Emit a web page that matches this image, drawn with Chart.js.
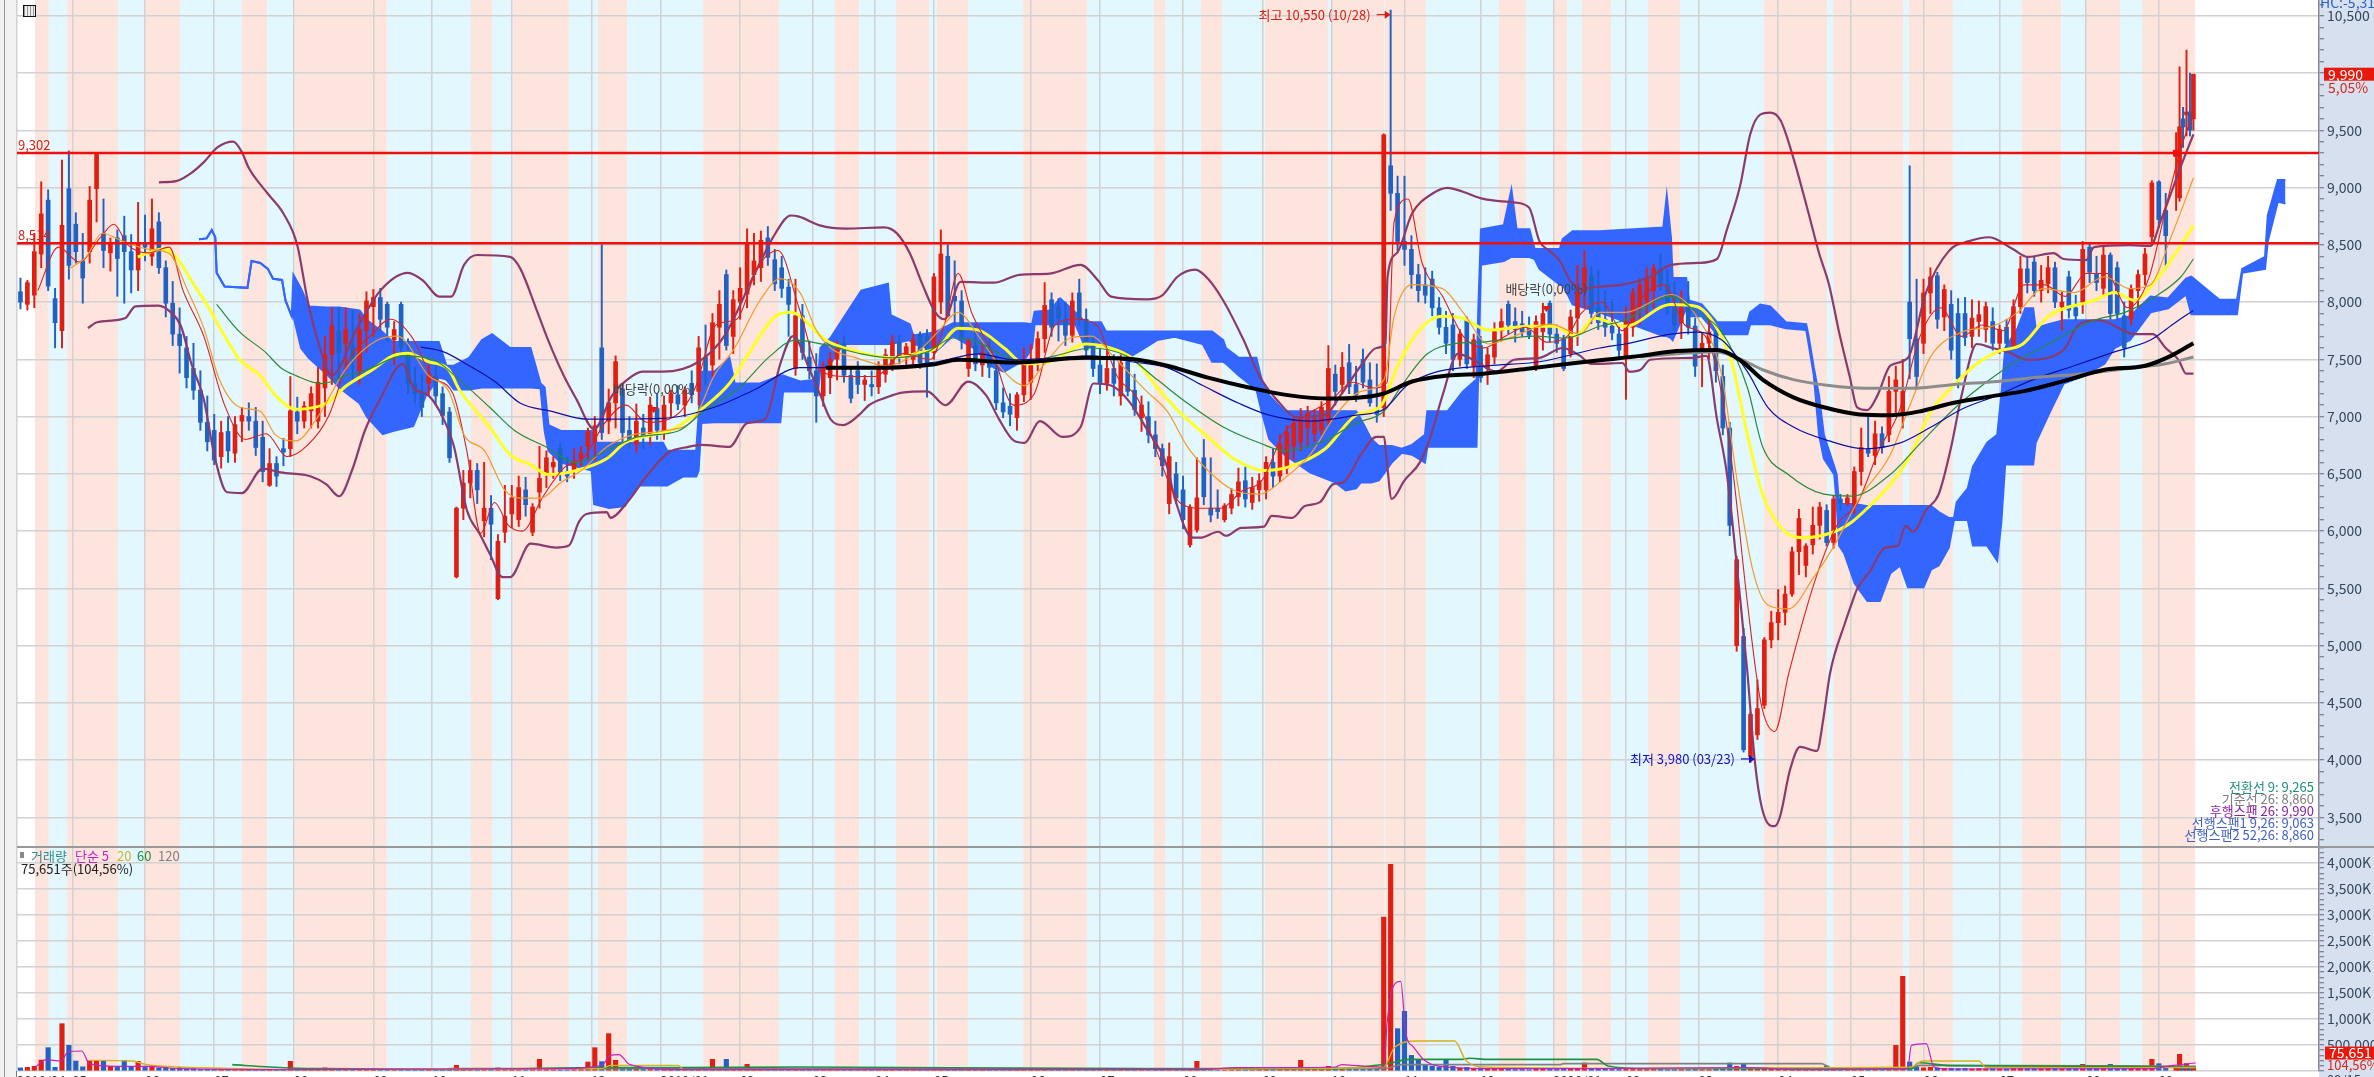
<!DOCTYPE html>
<html>
<head>
<meta charset="utf-8">
<script src="https://cdn.jsdelivr.net/npm/chart.js@4"></script>
<style>
html,body{margin:0;padding:0;background:#fff;overflow:hidden;width:2374px;height:1077px}
canvas{position:absolute;left:0}
#price{top:0}
#volume{top:847px}
.side{position:absolute;left:2319px;top:0;width:55px;height:1077px;background:#d6e0ef}
.strip{position:absolute;left:0;top:0;width:16px;height:1077px;background:#f2f2f2;border-right:1px solid #777}
.strip i{position:absolute;left:4px;top:0;width:1px;height:1077px;background:#999}
.sep{position:absolute;left:17px;top:846px;width:2357px;height:2px;background:#999}
.icon{position:absolute;left:23px;top:5px;width:11px;height:10px;border:1px solid #111;background:repeating-linear-gradient(90deg,#999 0 1px,#eee 1px 3px)}
</style>
</head>
<body>
<div class="side"></div>
<div class="strip"><i></i></div>
<canvas id="price" width="2374" height="847"></canvas>
<canvas id="volume" width="2374" height="230"></canvas>
<div class="sep"></div>
<div class="icon"></div>
<script>
// days are trading day numbers counted from the left edge of the chart
const monthDays = [0,16,37,57,80,103,120,143,166,186,209,230,248,265,293,313,337,360,380,401,423,444,465,486,509,530,551,573,598,619]
const monthLabels = ["2018/04","05","06","07","08","09","10","11","12","2019/01","02","03","04","05","06","07","08","09","10","11","12","2020/01","02","03","04","05","06","07","08","09"]

// day where each colour band starts, last one closes the run
const bandEdges = [5.2,9.2,14.5,29.2,36.7,47.1,65,72.3,80.3,106.9,131.2,137.3,143.4,159.5,167.9,176.3,198.3,220.2,236.4,243.4,254,263.6,265.9,274.9,290.8,309.2,328.6,331.8,342.2,348.3,360.7,378.9,379.8,395.1,395.4,407.2,428.3,436.1,443.9,448,452.3,460.7,471.4,480.6,504.9,523.1,524.9,545.1,546.8,559.5,579.5,590.8,597.7,607.8,614.2,629.5]

// open, high, low, close, volume (thousands), every second day
const dailyBars = [
[8090,8210,7940,8000,60],[7980,8190,7930,8170,70],[8060,8600,7950,8440,90],[8420,9050,8300,8770,210],[8890,8980,8100,8140,449],
[8030,8120,7600,7820,70],[7750,9240,7600,8670,910],[8990,9320,8200,8320,494],[8680,8780,8340,8440,192],[8360,8600,7990,8210,80],
[8440,9010,8340,8890,205],[8990,9302,8700,9290,205],[8600,8900,8300,8450,192],[8430,8560,8270,8510,90],[8560,8630,8050,8380,70],
[8580,8750,7990,8440,205],[8440,8590,8080,8280,80],[8280,8870,8100,8510,186],[8520,8760,8360,8480,70],[8400,8900,8320,8640,100],
[8700,8780,8250,8300,60],[8300,8360,7870,7990,90],[7990,8180,7620,7720,50],[7720,7950,7380,7620,70],[7600,7700,7250,7340,40],
[7420,7640,7150,7230,45],[7230,7400,6880,6950,30],[6950,7180,6700,6780,35],[6880,7020,6580,6620,40],[6650,6960,6550,6860,45],
[6870,7000,6600,6700,25],[6680,7000,6600,6930,35],[6960,7080,6780,7010,30],[7000,7120,6880,6960,25],[6960,7080,6660,6730,20],
[6820,6960,6430,6520,25],[6400,6720,6390,6590,30],[6590,6650,6390,6480,20],[6720,6810,6570,6690,25],[6720,7350,6650,7050,186],
[7040,7170,6850,6960,40],[6960,7130,6900,7090,30],[7050,7260,6900,7200,35],[6960,7430,6900,7300,45],[7250,7700,7000,7540,60],
[7540,7950,7280,7790,50],[7740,7950,7300,7560,40],[7640,7950,7400,7760,35],[7620,7930,7300,7490,30],[7400,7900,7280,7760,30],
[7750,8090,7560,8010,50],[7960,8110,7700,8040,40],[8040,8120,7750,7850,25],[7980,8000,7650,7780,25],[7670,7830,7450,7760,20],
[7980,8000,7530,7600,30],[7560,7680,7200,7290,25],[7290,7430,7120,7200,20],[7200,7370,7000,7080,25],[7290,7450,7180,7350,25],
[7350,7460,7100,7180,20],[7200,7260,6930,7010,25],[7040,7080,6600,6640,30],[5600,6210,5590,6200,110],[6200,6530,6100,6420,45],
[6420,6620,6290,6530,30],[6530,6590,6240,6360,25],[6090,6600,5950,6200,35],[6200,6310,5750,6060,30],[5410,5970,5400,5910,60],
[5990,6400,5900,6130,40],[6150,6400,6030,6290,30],[6100,6480,6040,6380,25],[6360,6470,6130,6230,20],[5990,6240,5960,6210,25],
[6340,6740,6200,6460,224],[6500,6700,6380,6640,40],[6560,6650,6460,6600,25],[6720,6770,6440,6510,20],[6520,6640,6430,6480,20],
[6520,6720,6460,6610,25],[6630,6740,6570,6680,30],[6740,6900,6620,6870,173],[6780,7000,6620,6920,449],[7600,8500,6800,6860,180],
[6960,7240,6850,7120,718],[7120,7530,6900,7480,205],[7240,7290,6780,6860,60],[6880,7000,6730,6790,50],[6760,7110,6690,6960,60],
[6900,7020,6720,6820,40],[6830,7170,6750,7100,50],[7070,7200,6800,6880,45],[6860,7180,6800,7100,40],[7120,7230,7000,7200,30],
[7190,7270,7060,7110,25],[7100,7260,7000,7230,30],[7290,7400,7120,7190,30],[7220,7700,7100,7600,60],[7520,7800,7280,7400,50],
[7450,7900,7350,7820,224],[7780,8100,7500,7980,60],[8240,8280,7580,7620,224],[7700,8100,7550,8020,50],[8000,8300,7850,8120,45],
[8070,8640,7950,8520,128],[8240,8600,8150,8360,50],[8300,8620,8180,8540,40],[8560,8660,8320,8390,30],[8370,8460,8100,8160,30],
[8300,8400,8040,8120,30],[8130,8200,7700,7980,35],[7420,8200,7360,7880,40],[7880,7980,7500,7560,40],[7520,7660,7330,7400,30],
[7400,7550,6950,7180,35],[7180,7480,7090,7440,30],[7340,7560,7200,7500,25],[7500,7660,7320,7590,30],[7640,7700,7300,7360,25],
[7360,7420,7120,7160,20],[7400,7480,7200,7280,20],[7280,7360,7140,7320,25],[7280,7400,7180,7260,20],[7260,7480,7200,7420,25],
[7370,7590,7300,7540,25],[7450,7710,7400,7650,30],[7650,7710,7460,7520,25],[7520,7640,7420,7610,20],[7500,7720,7440,7670,25],
[7720,7740,7420,7470,25],[7700,7760,7170,7450,30],[7560,8250,7500,8220,70],[8000,8630,7900,8420,60],[8400,8500,7870,7880,45],
[8050,8360,7800,8010,40],[8010,8100,7590,7680,35],[7420,7680,7350,7660,30],[7620,7810,7400,7460,25],[7450,7640,7350,7560,25],
[7560,7700,7340,7430,20],[7400,7520,7060,7120,25],[7120,7250,6990,7040,20],[7090,7200,6920,7020,25],[6990,7210,6880,7190,30],
[7190,7600,7130,7480,45],[7300,7630,7150,7500,40],[7500,7740,7400,7680,35],[7680,8170,7560,7970,50],[8020,8080,7700,7780,35],
[7960,8030,7660,7860,25],[7850,8000,7620,7710,25],[7710,8080,7650,8010,35],[8080,8200,7800,7850,40],[7850,7940,7500,7580,30],
[7620,7700,7350,7420,25],[7450,7590,7200,7290,25],[7290,7620,7230,7420,30],[7420,7540,7180,7290,20],[7180,7540,7100,7470,30],
[7480,7560,7180,7220,25],[7230,7370,7010,7060,25],[6990,7180,6870,7100,30],[7000,7130,6770,6840,25],[6840,6960,6650,6720,25],
[6720,6760,6480,6570,30],[6240,6770,6150,6650,40],[6500,6600,6240,6290,30],[6360,6480,6020,6100,30],[5880,6230,5860,6210,50],
[6010,6640,5990,6290,186],[6640,6800,6230,6300,50],[6200,6640,6080,6140,35],[6200,6360,6110,6170,30],[6100,6240,6080,6220,25],
[6200,6370,6150,6320,25],[6300,6550,6220,6430,35],[6440,6560,6210,6280,25],[6250,6470,6190,6380,25],[6360,6500,6260,6440,30],
[6360,6650,6280,6600,35],[6600,6720,6380,6480,30],[6480,6840,6430,6760,40],[6550,6920,6500,6860,45],[6740,7000,6620,6940,50],
[6780,7070,6700,6980,205],[6900,7090,6740,7030,60],[6850,7060,6780,6980,55],[6880,7130,6840,7080,50],[6960,7620,6930,7420,90],
[7370,7450,7100,7220,60],[7280,7560,7200,7430,50],[7470,7630,7200,7260,40],[7280,7440,7130,7190,45],[7500,7590,7250,7300,35],
[7320,7470,7090,7120,40],[7060,7460,6950,7020,60],[7080,9470,7000,9460,2960],[9190,10550,8800,8950,3975],[8950,9100,8450,8530,814],
[8530,9100,8320,8460,1147],[8460,8580,8120,8240,300],[8240,8330,8000,8100,224],[8150,8300,7990,8060,120],[8200,8270,7880,7950,90],
[7950,8040,7720,7780,70],[7780,7920,7550,7640,205],[7800,7900,7400,7500,90],[7500,7760,7440,7720,60],[7850,7870,7420,7460,70],
[7440,7720,7340,7670,50],[7620,7700,7300,7340,60],[7420,7600,7280,7540,45],[7520,7820,7460,7750,50],[7750,7940,7660,7830,40],
[7980,8010,7720,7800,35],[7830,7950,7650,7760,30],[7810,7920,7700,7740,30],[7770,7870,7680,7710,25],[7440,7880,7400,7830,45],
[7740,7990,7580,7900,40],[7990,8010,7650,7720,35],[7720,7800,7560,7640,30],[7680,7710,7400,7420,35],[7550,7930,7520,7870,40],
[7860,8320,7620,8090,50],[8090,8450,7950,8300,154],[8230,8310,7810,7900,50],[7950,8280,7760,7820,40],[7850,8100,7700,7780,35],
[7790,8010,7670,7730,30],[7720,7800,7520,7580,30],[7520,7960,7150,7830,40],[7780,8120,7700,8080,35],[7960,8200,7800,8150,35],
[8000,8300,7900,8210,30],[8100,8330,7950,8290,30],[8290,8420,8100,8140,30],[8150,8280,7890,7950,25],[7960,8180,7750,7800,25],
[7820,8100,7680,7950,25],[8000,8180,7720,7780,25],[7790,7860,7350,7440,30],[7560,7730,7260,7640,25],[7640,7890,7500,7740,25],
[7740,7800,7300,7400,30],[7350,7450,6840,6900,50],[6900,6950,5960,6050,154],[5000,5780,4950,5750,90],[5080,5150,4070,4090,141],
[4030,4420,3980,4400,70],[4220,4700,4180,4450,60],[4480,5070,4450,5050,55],[5050,5300,4980,5200,50],[5200,5490,5050,5290,45],
[5290,5520,5180,5450,40],[5450,5860,5430,5820,45],[5820,6190,5620,6110,50],[5700,5890,5600,5870,40],[5880,6210,5800,6050,35],
[6050,6250,5930,6210,35],[6180,6230,5870,5900,96],[5900,6310,5850,6280,35],[6280,6320,6180,6240,30],[6240,6320,6220,6290,25],
[6220,6560,6150,6520,35],[6520,6900,6400,6730,40],[6720,7000,6650,6680,30],[6660,6960,6580,6850,30],[6850,6910,6680,6730,25],
[6840,7350,6780,7220,50],[7220,7440,7000,7320,494],[7030,7500,6900,7220,1820],[8000,9190,7330,7680,173],[7680,8200,7240,7350,80],
[7640,8200,7550,8080,60],[8080,8300,7900,8220,70],[8230,8260,7770,7850,55],[7870,8150,7750,8110,50],[7980,8100,7500,7580,50],
[7900,8030,7250,7330,45],[7900,8040,7620,7690,50],[7700,8020,7600,7860,40],[7830,8010,7700,7890,45],[7760,8000,7650,7960,40],
[7830,7950,7580,7640,45],[7640,7800,7550,7760,40],[7780,7850,7600,7640,40],[7620,8020,7590,7960,50],[7960,8400,7900,8290,60],
[8290,8390,8080,8170,50],[8350,8400,8050,8100,50],[8100,8320,8000,8190,45],[8160,8400,8080,8300,50],[8300,8350,7950,8000,50],
[7960,8090,7750,8000,45],[8220,8270,7860,7930,50],[7950,8060,7840,7880,45],[8000,8530,7900,8460,128],[8480,8520,8170,8260,50],
[8250,8400,8100,8170,45],[8120,8480,8050,8410,50],[8410,8430,7850,7900,128],[8300,8350,7850,7900,50],[7880,8000,7520,7600,50],
[7850,8150,7800,8120,50],[8100,8280,7950,8240,45],[8240,8470,8150,8420,60],[8570,9060,8500,9040,224],[9050,9060,8650,8720,141],
[8800,8950,8320,8580,60]
]
const lastDays = [624,625,626,627,628,629]
const lastBars = [
[9270,9480,8800,9320,70],[8910,10055,8880,9530,320],[9600,9700,9350,9530,90],[9635,10200,9450,9660,141],[9660,10000,9450,9500,80],[9600,9990,9500,9990,76]
]
// the peak day closed down but its volume bar is painted red
const redVolumeDays = [397]

// ichimoku cloud: day, top, bottom
const cloudSpan = [
[52.6,8549,8549],[54.8,8556,8556],[56.3,8628,8628],[57.3,8566,8566],[57.7,8255,8255],[60,8135,8135],[66.6,8124,8124],[67.8,8359,8359],[70.3,8342,8342],[72.5,8290,8290],[74,8204,8204],[76.6,8193,8193],[77.6,8014,8014],[79.4,7876,7876],
[79.9,8238,7876],[82.1,8117,7599],[84.3,7962,7513],[89.4,7952,7375],[93.1,7952,7254],[99,7927,7116],[101.2,7841,6995],[105.7,7737,6847],[108.6,7651,6874],[114.5,7651,6916],[118.2,7651,7185],[121.9,7651,7340],[124.1,7444,7323],[126.3,7444,7237],[130.7,7513,7237],[134.4,7668,7254],[137.3,7720,7254],[142.5,7599,7254],[148.4,7599,7254],[151.3,7289,7247],[152.5,7254,6874],[153.6,6926,6702],[157.2,6874,6598],[166.1,6874,6529],[166.8,6771,6235],[171.2,6771,6201],[175.7,6771,6218],[179.4,6771,6398],[186.7,6771,6398],[187.9,6702,6398],[192.6,6702,6477],[196.3,6702,6477],[197,7012,6529],[197.8,7392,6943],[201.5,7392,6950],[205.9,7513,6950],[207.4,7289,6950],[214.7,7289,6950],[220.6,7358,6950],[221.4,7358,7220],[226.3,7306,7220],[231.5,7323,7220],[232.2,7599,7427],[235.1,7686,7461],[238.8,7858,7634],[244,8100,7634],[251.7,8159,7634],[252.5,7886,7634],[258,7807,7668],[259,7710,7634],[261.7,7720,7617],[265.4,7737,7565],[270.5,7814,7703],[276.4,7814,7599],[282.3,7814,7427],[285.3,7814,7392],[291.2,7814,7496],[293.4,7807,7599],[294.1,7917,7807],[298.5,7927,7807],[301.5,8031,7807],[305.9,7910,7807],[308.8,7824,7599],[313.3,7824,7634],[314.7,7744,7634],[322.1,7744,7530],[325,7744,7582],[329.5,7744,7668],[334.6,7744,7696],[342.7,7744,7634],[345.4,7744,7478],[348.6,7668,7478],[349.4,7599,7461],[353.1,7513,7358],[358.2,7513,7237],[359.7,7323,7047],[361.9,7185,6805],[366.3,7047,6667],[373.7,7047,6512],[381,7047,6425],[384,7047,6356],[387,7047,6374],[388.4,6978,6425],[391.4,6805,6425],[393.6,6743,6443],[397.3,6743,6598],[400.2,6719,6684],[403.2,6753,6667],[406.9,6840,6598],[407.6,7047,6736],[413.5,7047,6736],[417.9,7219,6736],[421.8,7323,6736],[422.3,7910,7358],[423.1,8635,8325],[429.7,8670,8359],[431.9,8981,8394],[433.4,8635,8394],[437.1,8635,8394],[438.6,8463,8376],[440,8463,8290],[445.9,8463,8152],[446.7,8549,8152],[449.6,8618,7979],[457.4,8618,7910],[475.8,8652,7703],[476.8,8929,7703],[478,8566,7686],[478.5,8210,7668],[482.4,8210,7945],[483.2,8014,7876],[486.9,7979,7876],[491.3,7824,7720],[500.1,7824,7720],[500.9,7910,7807],[503.8,7979,7807],[506.7,7962,7807],[511.2,7824,7772],[517.1,7807,7755],[517.8,7703,7634],[519.3,7427,7358],[520.8,7185,6840],[522.2,6840,6632],[525.2,6563,6494],[525.9,6494,6253],[526.6,6236,5873],[528.1,6236,5804],[531.1,6236,5545],[534.8,6218,5389],[538.4,6218,5389],[541.4,6218,5631],[544.3,6218,5700],[546.5,6218,5510],[551,6218,5510],[553.2,6218,5666],[555.4,6166,5700],[558.3,6115,5856],[559.8,6115,6097],[560.6,6253,6097],[563.8,6374,6097],[565.3,6563,5873],[569.4,6771,5873],[572.3,6840,5742],[573.5,7185,6080],[574.6,7599,6581],[578.2,7772,6581],[580.4,7945,6581],[582.7,7945,6581],[583.4,7772,6771],[587.1,7807,7012],[591.5,7841,7289],[597.4,7841,7358],[603.3,7841,7461],[606.2,7841,7599],[610.7,7876,7668],[616.6,8048,7910],[621.7,8031,7945],[626.9,8204,8066],[628.4,8221,7893],[636.5,8021,7893],[641.6,8021,7893],[643.1,8290,8255],[649.7,8394,8290],[650.5,8756,8532],[653.4,9067,8877],[655.6,9067,8860]
]

const bollUpper = [[41,9046],[46,9056],[50,9119],[54,9222],[58,9353],[62.5,9402],[65,9309],[67,9170],[72.5,8946],[77,8773],[81,8497],[84,8014],[87.2,7634],[91,7358],[98.3,7772],[105,8100],[113,8255],[117.4,8186],[122,8048],[125.5,8048],[129.2,8325],[133,8411],[142.5,8394],[145.5,8290],[150,7945],[153.5,7668],[158,7358],[161.7,7150],[166.8,6891],[172,7185],[176.4,7323],[180.8,7392],[186.7,7392],[197,7479],[204.4,7703],[213.3,8255],[219.2,8601],[223.6,8756],[226,8746],[232,8670],[239.6,8642],[250.6,8652],[254.3,8600],[258,8428],[261.7,8152],[265.4,7910],[268,7850],[272.7,8176],[282.3,8169],[289.7,8238],[298.5,8249],[307.4,8324],[312.5,8186],[316.2,8048],[326.5,8024],[331,8059],[335.4,8221],[340.5,8283],[344.2,8204],[348.6,8014],[354.5,7668],[359,7358],[364,7150],[370,6995],[378,7012],[382.5,7185],[388.4,7444],[392.9,7599],[395.5,7641],[396.1,8221],[398.8,8428],[403.2,8773],[409,8946],[413.5,8998],[417.9,8963],[423.8,8901],[432.7,8870],[437,8825],[440,8532],[443,8445],[445.9,8359],[448.9,8186],[451.8,8117],[457.4,8135],[464,8152],[472,8221],[478,8325],[486,8342],[491.3,8376],[494.2,8635],[498,9015],[500.9,9464],[503.8,9637],[506.7,9654],[509.7,9585],[513.4,9257],[517.8,8773],[520.8,8428],[523.7,8152],[526.6,7737],[529.6,7358],[531.8,7081],[534.8,7057],[537.7,7185],[541.4,7444],[546.5,7513],[551.7,8083],[558.3,8445],[564.2,8532],[570,8566],[576.8,8463],[581.2,8394],[588.6,8428],[591.5,8376],[598,8366],[600.3,8480],[610.7,8497],[616.6,8490],[619.5,8704],[625.4,9188],[629,9464]]
const bollLower = [[20.5,7772],[23.1,7824],[31.2,7858],[34.2,7962],[40.8,7969],[44.5,7910],[47.4,7789],[50.4,7461],[54,7150],[57,6667],[60.7,6339],[65,6332],[71,6546],[76.2,6512],[85,6477],[89.4,6408],[93.1,6304],[96.8,6529],[100.5,6874],[104.9,7150],[111.5,7461],[114.5,7254],[118.9,7185],[123.3,6978],[126.3,6736],[130,6184],[133.7,5976],[136.6,5804],[140.3,5597],[142.5,5597],[148.4,5890],[155.8,5856],[159.5,5873],[162.4,6080],[164.6,6149],[170.5,6166],[171.5,6115],[176.4,6253],[182.3,6494],[188.2,6684],[194.1,6736],[197.8,6753],[205.9,6736],[211,6943],[216.2,6978],[220.6,7461],[224.3,7703],[229.3,7392],[232.2,7185],[235.1,6978],[238.8,6926],[243.3,7012],[246.2,7099],[251.4,7168],[255.8,7209],[263.1,7220],[268.3,7099],[274.9,7306],[280.1,7185],[283.8,6978],[288.2,6788],[291.2,6771],[295.6,6961],[302.2,6822],[307.4,6909],[311.1,7289],[316.2,7271],[321.4,7133],[326.5,6891],[332.4,6563],[334.6,6287],[339.8,5942],[342,5942],[347.2,5994],[349.4,5959],[353.8,6028],[360.4,6039],[362.6,6132],[368.5,6115],[372.2,6218],[376.6,6253],[380.3,6408],[383.3,6425],[388.4,6667],[392.9,6822],[395.1,6822],[395.8,6633],[397.3,6280],[401,6443],[405.4,6598],[408.3,6805],[412,7185],[416.4,7548],[420.9,7496],[427.5,7392],[432.7,7496],[440,7513],[446.7,7599],[451.8,7530],[454.8,7461],[457.4,7461],[464,7468],[466,7392],[469.2,7409],[472,7496],[484,7513],[488.3,7530],[491.3,6978],[494.2,6494],[497.5,5560],[500,4800],[502.3,3975],[504.3,3581],[507.2,3424],[508,3424],[509.5,3503],[512.4,3913],[515.3,4115],[520.2,4080],[522,4350],[524,4760],[528.3,5197],[530.6,5398],[531.8,5493],[535.5,5648],[539.9,5856],[543.6,5873],[545.8,6046],[548,5994],[551.7,6184],[555.4,6322],[559,6736],[562,7185],[566.4,7634],[570.9,7599],[575.3,7565],[581.2,7496],[591.5,7582],[596,7807],[601.8,7841],[612.1,7720],[617.3,7720],[621,7599],[624.7,7496],[626.9,7375],[629,7375]]

const maYellow = [[34.9,8394],[42.3,8463],[46,8394],[51.1,8152],[55.5,7945],[60,7703],[64.4,7496],[70.3,7358],[74.7,7185],[80.6,7064],[89.4,7116],[95.3,7271],[102.7,7409],[108.6,7530],[113,7554],[118.9,7479],[124.8,7409],[127.8,7237],[136.6,6909],[142.5,6667],[148.4,6581],[153.5,6494],[161.7,6529],[170.5,6633],[175.7,6771],[180.8,6822],[189.7,6891],[198.5,7081],[205.9,7289],[211.8,7565],[219.2,7876],[223.6,7910],[226.3,7876],[233.7,7668],[241,7582],[252.8,7513],[261.7,7565],[266,7599],[272,7772],[277.9,7755],[285.3,7599],[291.2,7461],[298.5,7479],[308.8,7634],[317.7,7582],[323.6,7479],[329.5,7254],[336.9,7012],[344.2,6822],[351.6,6633],[360.4,6529],[367.8,6563],[378.1,6719],[387,7012],[394.3,7099],[398.8,7427],[404.7,7737],[412,7876],[417.9,7858],[425.3,7755],[437.1,7789],[444.5,7789],[450.3,7703],[455.9,7858],[464.7,7789],[478,7979],[485.4,7962],[491.3,7772],[495.7,7461],[500.1,6840],[504.5,6322],[510.4,6011],[516.3,5942],[525.2,5994],[530.3,6080],[534.8,6201],[541.4,6408],[547.3,6667],[553.2,7047],[559.1,7254],[566.4,7461],[572.3,7565],[579.7,7634],[587.1,7876],[600.3,8014],[606.2,8083],[612.1,8014],[618,8186],[623.9,8428],[629,8670]]
const maGreen = [[57.7,7979],[64.4,7737],[71.7,7565],[76.2,7427],[80.6,7358],[88,7288],[95.3,7358],[101.2,7409],[111.5,7530],[120.4,7496],[127.8,7323],[136.6,7081],[144,6874],[152.8,6736],[161.7,6598],[170.5,6702],[179.4,6822],[191.1,6874],[198.5,7047],[208.8,7254],[217.7,7530],[225,7668],[235.1,7617],[244,7547],[252.8,7513],[263.2,7565],[270.5,7686],[276.4,7668],[285.3,7530],[291.2,7479],[300,7530],[310.3,7599],[320.6,7530],[329.5,7323],[338.3,7116],[348.6,6909],[359,6771],[366.3,6702],[376.6,6771],[387,6943],[395.1,7047],[400.2,7271],[407.6,7548],[415,7634],[423.8,7651],[438.6,7703],[447.4,7686],[457.4,7789],[464.7,7841],[478,8048],[485.4,7910],[492.7,7737],[500.1,7254],[504.5,6736],[511.9,6494],[522.2,6322],[530.3,6305],[541.4,6494],[550.2,6770],[559.1,7047],[567.9,7271],[576.8,7461],[587.1,7634],[600.3,7841],[609.2,7910],[618,8048],[625.4,8221],[629,8376]]
const maNavy = [[116.7,7606],[123.3,7565],[130.7,7444],[138.1,7306],[145.5,7116],[154.3,7047],[164.6,6978],[186.7,6985],[201.5,7081],[213.3,7237],[226.2,7427],[232.2,7427],[255.8,7444],[266.1,7479],[277.9,7547],[288.2,7496],[300,7513],[310.3,7530],[322.1,7479],[332.4,7427],[342.7,7271],[353.1,7116],[361.9,7012],[373.7,6961],[387,7012],[395.1,7064],[401.7,7271],[410.5,7392],[425.3,7444],[440,7479],[457.4,7599],[464.7,7634],[478,7720],[485.4,7737],[492.7,7668],[500.1,7392],[506,7081],[513.4,6909],[523.7,6788],[534,6719],[544.3,6770],[553.2,6909],[562,7064],[572.3,7185],[582.7,7323],[594.5,7444],[606.2,7565],[616.6,7668],[623.9,7824],[629,7927]]
const maBlack = [[233.7,7427],[251.4,7427],[264.6,7454],[272,7496],[288.2,7472],[308.8,7513],[322.1,7503],[332.4,7444],[344.2,7340],[356,7254],[367.8,7185],[379.6,7157],[394.3,7195],[403.2,7306],[413.5,7358],[423.8,7375],[437.1,7420],[450.3,7468],[458.8,7496],[469.2,7530],[479.5,7572],[491.3,7582],[498.6,7479],[504.5,7323],[513.4,7168],[522.2,7081],[532.5,7019],[541.4,7012],[550.2,7047],[559.1,7116],[572.3,7185],[579.7,7220],[593,7323],[603.3,7409],[615.1,7444],[622.5,7530],[629,7641]]
const maGray = [[469.2,7520],[482.4,7555],[491.3,7565],[498.6,7496],[504.5,7409],[513.4,7323],[523.7,7271],[534,7247],[547.3,7247],[560.6,7282],[572.3,7306],[582.7,7340],[597.4,7375],[612.1,7427],[621,7461],[629,7520]]
const maOrange = [[15,8290],[20,8394],[24.6,8601],[30.5,8532],[37.8,8463],[43.8,8428],[49.6,8083],[54,7772],[58.5,7323],[64.4,7081],[70.3,7047],[74.7,6840],[80.6,6788],[86.5,6978],[95.3,7427],[104.2,7668],[110,7703],[118.9,7358],[124.8,7220],[129.2,6840],[135.1,6702],[141,6356],[145.5,6287],[151.3,6287],[157.2,6425],[163.1,6529],[170.5,6736],[177.9,6840],[186.7,6874],[195.6,6978],[201.5,7358],[207.4,7599],[214.7,8014],[220.6,8204],[226.3,8083],[230.7,7772],[235.1,7599],[242.5,7513],[251.4,7444],[260.2,7565],[266.1,7737],[272,7910],[277.9,7703],[285.3,7392],[291.2,7271],[297,7461],[304.4,7686],[310.3,7703],[317.7,7496],[326.5,7220],[332.4,7047],[338.3,6736],[344.2,6529],[351.6,6356],[359,6322],[366.3,6460],[373.7,6667],[381.1,7012],[388.4,7220],[395.1,7323],[398,7876],[403.2,8152],[412,8117],[417.9,7910],[425.3,7634],[432.7,7703],[443,7807],[451.8,7720],[457.4,7910],[464.7,7910],[478,8066],[485.4,7876],[492.7,7358],[497.2,6425],[501.6,5666],[506,5355],[511.9,5320],[519.3,5597],[525.2,5873],[532.5,6287],[541.4,6667],[547.3,7116],[553.2,7530],[562,7737],[570.9,7789],[578.2,7910],[585.6,8117],[594.5,8083],[603.3,8221],[610.7,8117],[616.6,8152],[622.5,8566],[626.9,8912],[629,9084]]
const maRed = [[6,8100],[12,8480],[18,8350],[24,8560],[28,8680],[32,8500],[38,8430],[44,8480],[48,8100],[54,7700],[60,7100],[66,6800],[72,6850],[78,6650],[84,6750],[90,7000],[96,7500],[102,7700],[108,7850],[114,7700],[120,7350],[126,7200],[130,6700],[134,5980],[138,6250],[142,6050],[146,6000],[152,6300],[158,6550],[164,6650],[170,6950],[176,7100],[182,6950],[190,7000],[196,7250],[202,7800],[208,7850],[214,8300],[220,8450],[226,7950],[232,7400],[240,7350],[248,7350],[256,7550],[264,7500],[268,7800],[272,8250],[276,7900],[282,7550],[288,7100],[294,7200],[300,7800],[306,7850],[312,7800],[318,7350],[324,7150],[330,6650],[336,6250],[342,6200],[348,6200],[354,6350],[360,6450],[366,6850],[372,7000],[380,7150],[386,7300],[392,7250],[396,7300],[398,8700],[402,8900],[406,8350],[412,8050],[418,7700],[424,7600],[430,7700],[436,7780],[442,7650],[448,7700],[452,7900],[458,8000],[464,7750],[470,8050],[476,8150],[482,7800],[488,7700],[492,7300],[496,6500],[500,5400],[504,4500],[508,4250],[512,4750],[516,5200],[520,5600],[526,6050],[532,6250],[538,6700],[544,7050],[550,7700],[556,7950],[562,7700],[568,7800],[574,7750],[580,8150],[586,8150],[592,8050],[598,8250],[604,8250],[610,7950],[616,8200],[622,8950],[626,9400],[629,9640]]

const levels = [9302,8514]

// volume moving averages, thousands
const volMa5 = [[5.4,77],[8.4,218],[12.8,192],[14.7,365],[18.7,385],[20.9,141],[29,90],[38,90],[46.7,45],[83.5,25],[151,45],[157,45],[169,109],[171.5,301],[174,314],[176.7,141],[179.3,90],[191,26],[342,26],[352.7,64],[363.5,64],[381,77],[383,122],[386.3,109],[395,77],[396,942],[397.7,1615],[399.9,1724],[401.4,718],[403.6,461],[406.8,205],[411.1,90],[428.5,45],[454.4,45],[499.9,64],[515,26],[546.4,45],[547.5,494],[551.8,526],[554,77],[558.3,38],[616.7,45],[623.2,109],[629.7,154]]
const volMa20 = [[20.5,205],[33.4,192],[37.1,128],[46.7,77],[57,58],[80.6,26],[169,45],[171.5,109],[191.1,109],[192.6,26],[342,26],[361.4,45],[395,77],[398.2,461],[404.7,577],[415.5,577],[418.7,205],[424.1,77],[435,64],[467.4,45],[504.2,64],[516.1,64],[547.5,77],[550.7,192],[567,192],[569.1,64],[629.7,64]]
const volMa60 = [[62.2,122],[73.2,77],[86.5,45],[127.8,32],[171.5,64],[191,64],[226.2,77],[342,38],[380.9,45],[396,141],[402.5,224],[417.6,224],[419.8,244],[425.2,224],[456.6,224],[459.8,96],[471.7,45],[547.5,45],[549.6,160],[558.3,103],[610.2,90],[629.7,64]]
const volMa120 = [[124.8,45],[395,45],[400.3,122],[445.8,122],[446.9,141],[521.5,141],[524.8,45],[547.5,45],[549.6,109],[629.7,90]]

const RED = "#e01e12"
const BLUE = "#1f62c4"
const PINK = "#fde4dd"
const SKY = "#e3f7fe"
const GRID = "#d2d2d2"
const NARROW = "'Liberation Sans Narrow','Noto Sans CJK KR'"

const allBars = dailyBars.concat(lastBars)
const barDays = dailyBars.map((_, i) => i * 2 + 1).concat(lastDays)
const barColors = allBars.map(b => (b[3] >= b[0] ? RED : BLUE))
const volumeColors = barColors.map((c, i) => (redVolumeDays.includes(barDays[i]) ? RED : c))
const xy = pairs => pairs.map(p => ({ x: p[0], y: p[1] }))

const line = (pairs, color, width, order) => ({
  type: "line", data: xy(pairs), borderColor: color, borderWidth: width,
  pointRadius: 0, fill: false, order: order, cubicInterpolationMode: "monotone"
})

const bandsPlugin = {
  id: "bands",
  beforeDraw(chart) {
    const { ctx, chartArea, scales } = chart
    for (let i = 0; i < bandEdges.length - 1; i++) {
      const a = scales.x.getPixelForValue(bandEdges[i])
      const b = scales.x.getPixelForValue(bandEdges[i + 1])
      ctx.fillStyle = i % 2 ? SKY : PINK
      ctx.fillRect(a, chartArea.top, b - a, chartArea.bottom - chartArea.top)
    }
  }
}

const xAxis = showLabels => ({
  type: "linear", min: 0, max: 665.3, offset: false,
  grid: { color: GRID, lineWidth: 1.5, offset: false, drawTicks: false },
  border: { display: false },
  afterBuildTicks(s) { s.ticks = monthDays.map(v => ({ value: v })) },
  afterFit(s) {
    s.height = showLabels ? 6 : 0
    s.paddingLeft = 0
    s.paddingRight = 0
  },
  ticks: {
    display: showLabels, autoSkip: false, maxRotation: 0, align: "start", padding: 2,
    color: "#333", font: { family: NARROW, size: 13 },
    callback: v => monthLabels[monthDays.indexOf(v)]
  }
})

const yAxis = (min, max, step, labelStep, format) => ({
  type: "linear", position: "right", min: min, max: max,
  grid: {
    tickLength: 5, lineWidth: 1.5, tickWidth: 1,
    color: c => (c.tick.value % labelStep === 0 ? GRID : "rgba(0,0,0,0)"),
    tickColor: "#667"
  },
  border: { color: "#889", width: 1.5 },
  afterBuildTicks(s) {
    const t = []
    for (let v = Math.ceil(min / step) * step; v <= max; v += step) t.push({ value: v })
    s.ticks = t
  },
  afterFit(s) {
    s.width = 55
    s.paddingTop = 0
    s.paddingBottom = 0
  },
  ticks: {
    autoSkip: false, padding: 3, color: "#34465a", font: { family: NARROW, size: 14 },
    callback: v => (v % labelStep === 0 ? format(v) : "")
  }
})

function text(ctx, str, x, y, color, align, size) {
  ctx.font = (size || 13) + "px " + NARROW
  ctx.fillStyle = color
  ctx.textAlign = align || "left"
  ctx.textBaseline = "middle"
  ctx.fillText(str, x, y)
}

function pointer(ctx, tipX, y, color) {
  ctx.strokeStyle = color
  ctx.fillStyle = color
  ctx.lineWidth = 1.2
  ctx.beginPath()
  ctx.moveTo(tipX - 14, y)
  ctx.lineTo(tipX - 5, y)
  ctx.stroke()
  ctx.beginPath()
  ctx.moveTo(tipX, y)
  ctx.lineTo(tipX - 6, y - 4)
  ctx.lineTo(tipX - 6, y + 4)
  ctx.fill()
}

const peakMark = { label: "최고 10,550 (10/28)", day: 397, value: 10510, color: "#d81c10" }
const troughMark = { label: "최저 3,980 (03/23)", day: 502.3, value: 4010, color: "#1010c8" }
const dividendMarks = [{ day: 184, textValue: 7241, arrowValue: 7031 }, { day: 442, textValue: 8114, arrowValue: 7913 }]
const ichimokuNotes = [
  ["전환선 9: 9,265", "#1d8f7c"],
  ["기준선 26: 8,860", "#808080"],
  ["후행스팬 26: 9,990", "#8a1fa8"],
  ["선행스팬1 9,26: 9,063", "#3f62c4"],
  ["선행스팬2 52,26: 8,860", "#3f62c4"]
]

const priceNotes = {
  id: "priceNotes",
  afterDatasetsDraw(chart) {
    const { ctx, scales } = chart
    const X = v => scales.x.getPixelForValue(v)
    const Y = v => scales.y.getPixelForValue(v)
    ctx.save()
    text(ctx, "9,302", 18, Y(9302) - 8, "#c8281e")
    text(ctx, "8,514", 18, Y(8514) - 8, "#c8281e")
    for (const m of [peakMark, troughMark]) {
      text(ctx, m.label, X(m.day) - 20, Y(m.value), m.color, "right")
      pointer(ctx, X(m.day), Y(m.value), m.color)
    }
    for (const m of dividendMarks) {
      text(ctx, "배당락(0,00%)", X(m.day), Y(m.textValue), "#444", "center")
      ctx.fillStyle = RED
      ctx.beginPath()
      const tip = Y(m.arrowValue)
      ctx.moveTo(X(m.day), tip)
      ctx.lineTo(X(m.day) - 5, tip - 6)
      ctx.lineTo(X(m.day) + 5, tip - 6)
      ctx.fill()
    }
    ichimokuNotes.forEach((n, i) => text(ctx, n[0], 2314, 787 + i * 12, n[1], "right"))
    text(ctx, "HC:-5,31", 2320, 3, "#2a62c8", "left", 14)
    ctx.fillStyle = "#e8180c"
    ctx.fillRect(2324, Y(9990) - 6.5, 50, 13)
    text(ctx, "9,990", 2328, Y(9990), "#fff", "left", 14)
    text(ctx, "5,05%", 2328, Y(9990) + 13, "#d8281e", "left", 14)
    ctx.restore()
  }
}

const volumeNotes = {
  id: "volumeNotes",
  afterDraw(chart) {
    const { ctx, scales } = chart
    const tagTop = scales.y.getPixelForValue(470)
    ctx.save()
    ctx.fillStyle = "#888"
    ctx.fillRect(20, 5, 4, 6)
    text(ctx, "거래량", 31, 9, "#2e8f8f")
    text(ctx, "단순 5", 75, 9, "#c81fc0")
    text(ctx, "20", 117, 9, "#d8b020")
    text(ctx, "60", 137, 9, "#1f8f40")
    text(ctx, "120", 158, 9, "#808080")
    text(ctx, "75,651주(104,56%)", 21, 22, "#222")
    ctx.fillStyle = "#e8180c"
    ctx.fillRect(2325, tagTop, 49, 13)
    text(ctx, "75,651", 2329, tagTop + 6.5, "#fff", "left", 14)
    text(ctx, "104,56%", 2327, tagTop + 19, "#d8281e", "left", 13)
    text(ctx, "09/15", 2327, 233, "#34465a", "left", 13)
    ctx.restore()
  }
}

const baseOptions = {
  responsive: false, animation: false, devicePixelRatio: 1,
  layout: { autoPadding: false, padding: { left: 17, right: 0, top: 0, bottom: 0 } },
  plugins: { legend: { display: false }, tooltip: { enabled: false } },
  events: []
}

new Chart(document.getElementById("price"), {
  type: "bar",
  data: {
    datasets: [
      { type: "line", data: cloudSpan.map(r => ({ x: r[0], y: r[1] })), borderColor: "#3366ff", backgroundColor: "#3366ff", borderWidth: 2, pointRadius: 0, fill: "+1", order: 30, tension: 0 },
      { type: "line", data: cloudSpan.map(r => ({ x: r[0], y: r[2] })), borderColor: "#3366ff", borderWidth: 2, pointRadius: 0, fill: false, order: 30, tension: 0 },
      line(bollUpper, "#8a3a6c", 2.2, 12),
      line(bollLower, "#8a3a6c", 2.2, 12),
      { data: allBars.map((b, i) => ({ x: barDays[i], y: [b[2], b[1]] })), backgroundColor: barColors, barThickness: 1.3, grouped: false, order: 20 },
      { data: allBars.map((b, i) => ({ x: barDays[i], y: [b[0], b[3]] })), backgroundColor: barColors, barThickness: 4, grouped: false, minBarLength: 1, order: 19 },
      line(maGray, "#8c8c8c", 3, 9),
      line(maBlack, "#000", 4, 8),
      line(maNavy, "#1010a0", 1.2, 10),
      line(maGreen, "#2a8a3c", 1.2, 10),
      line(maYellow, "#ffff26", 3, 11),
      line(maOrange, "#f59a2a", 1.2, 10),
      line(maRed, "#dc2020", 1.1, 10),
      line([[0, levels[0]], [665.3, levels[0]]], "#f00f0f", 2.5, 5),
      line([[0, levels[1]], [665.3, levels[1]]], "#f00f0f", 2.5, 5),
      { type: "line", data: [{ x: 624, y: levels[0] }], showLine: false, pointStyle: "rect", pointRadius: 4.5, backgroundColor: "#f00f0f", borderWidth: 0, order: 4 }
    ]
  },
  options: {
    ...baseOptions,
    scales: {
      x: xAxis(false),
      y: yAxis(3241, 10638, 100, 500, v => v.toLocaleString("en-US"))
    }
  },
  plugins: [bandsPlugin, priceNotes]
})

new Chart(document.getElementById("volume"), {
  type: "bar",
  data: {
    datasets: [
      { data: allBars.map((b, i) => ({ x: barDays[i], y: b[4] })), backgroundColor: volumeColors, barThickness: 4.5, grouped: false, order: 10 },
      line(volMa120, "#808080", 1.6, 6),
      line(volMa60, "#1f8f40", 1.6, 5),
      line(volMa20, "#d8b020", 1.4, 4),
      line(volMa5, "#c81fc0", 1.2, 3)
    ]
  },
  options: {
    ...baseOptions,
    scales: {
      x: xAxis(true),
      y: yAxis(0, 4308, 100, 500, v => (v === 500 ? "500,000" : v === 0 ? "" : v.toLocaleString("en-US") + "K"))
    }
  },
  plugins: [bandsPlugin, volumeNotes]
})
</script>
</body>
</html>
